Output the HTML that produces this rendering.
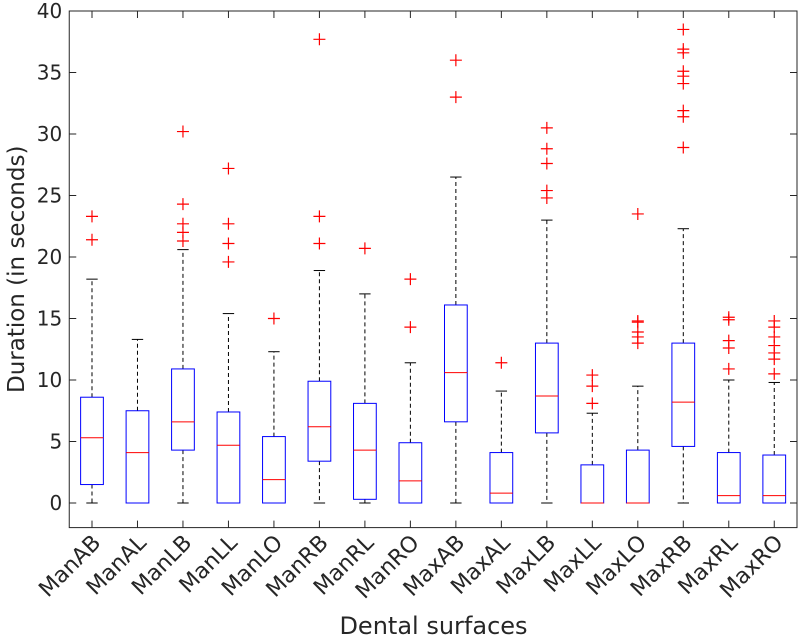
<!DOCTYPE html>
<html><head><meta charset="utf-8"><style>
body{margin:0;background:#fff;width:800px;height:637px;overflow:hidden}
svg{display:block;font-family:"DejaVu Sans","Liberation Sans",sans-serif}
</style></head><body>
<svg id="chart" width="800" height="637" viewBox="0 0 800 637"></svg>
<script>
const categories=["ManAB","ManAL","ManLB","ManLL","ManLO","ManRB","ManRL","ManRO","MaxAB","MaxAL","MaxLB","MaxLL","MaxLO","MaxRB","MaxRL","MaxRO"];
const q1s=[1.5,0,4.3,0,0,3.4,0.3,0,6.6,0,5.7,0,0,4.6,0,0];
const medians=[5.3,4.1,6.6,4.7,1.9,6.2,4.3,1.8,10.6,0.8,8.7,0,0,8.2,0.6,0.6];
const q3s=[8.6,7.5,10.9,7.4,5.4,9.9,8.1,4.9,16.1,4.1,13.0,3.1,4.3,13.0,4.1,3.9];
const whiskLo=[0,0,0,0,0,0,0,0,0,0,0,0,0,0,0,0];
const whiskHi=[18.2,13.3,20.6,15.4,12.3,18.9,17.0,11.4,26.5,9.1,23.0,7.3,9.5,22.3,10.0,9.8];
const outliers=[[21.4,23.3],[],[21.3,22.0,22.7,24.3,30.2],[19.6,21.1,22.7,27.2],[15.0],[21.1,23.3,37.7],[20.7],[14.3,18.2],[33.0,36.0],[11.4],[24.8,25.4,27.6,28.8,30.5],[8.1,9.5,10.4],[13.0,13.5,13.9,14.7,14.8,23.5],[28.9,31.4,31.9,34.1,34.7,35.1,36.6,36.9,38.5],[10.9,12.6,13.2,14.9,15.1],[10.5,11.7,12.2,12.8,13.5,14.3,14.8]];
const yTicks=[0,5,10,15,20,25,30,35,40];

const NS="http://www.w3.org/2000/svg";
const svg=document.getElementById('chart');
const L=69.25,R=797,T=11,B=527.6,ymin=-2,ymax=40;
const X=i=>L+(i+0.5)*(R-L)/categories.length;
const Y=v=>B-(v-ymin)*(B-T)/(ymax-ymin);
const bw=(R-L)/categories.length*0.5;
function el(tag,attrs,parent){const e=document.createElementNS(NS,tag);for(const k in attrs)e.setAttribute(k,attrs[k]);(parent||svg).appendChild(e);return e;}

const axes=el('rect',{x:L,y:T,width:R-L,height:B-T,fill:'#fff',stroke:'#262626','stroke-width':1});



yTicks.forEach(v=>{
  const y=Y(v);
  el('line',{x1:L,y1:y,x2:L+7,y2:y,stroke:'#262626'});
  el('line',{x1:R,y1:y,x2:R-7,y2:y,stroke:'#262626'});
  const t=el('text',{x:L-7,y:y+7,'text-anchor':'end','font-size':20,fill:'#262626'});
  t.textContent=v;
  
  
});

categories.forEach((c,i)=>{
  const x=X(i);
  el('line',{x1:x,y1:B,x2:x,y2:B-7,stroke:'#262626'});
  el('line',{x1:x,y1:T,x2:x,y2:T+7,stroke:'#262626'});
  const g=el('g',{});
  
  
  el('line',{x1:x,y1:Y(q3s[i]),x2:x,y2:Y(whiskHi[i]),stroke:'#000','stroke-dasharray':'4,3'},g);
  el('line',{x1:x,y1:Y(q1s[i]),x2:x,y2:Y(whiskLo[i]),stroke:'#000','stroke-dasharray':'4,3'},g);
  el('line',{x1:x-bw/4,y1:Y(whiskHi[i]),x2:x+bw/4,y2:Y(whiskHi[i]),stroke:'#000'},g);
  el('line',{x1:x-bw/4,y1:Y(whiskLo[i]),x2:x+bw/4,y2:Y(whiskLo[i]),stroke:'#000'},g);
  el('rect',{x:x-bw/2,y:Y(q3s[i]),width:bw,height:Y(q1s[i])-Y(q3s[i]),fill:'none',stroke:'#0000ff'},g);
  el('line',{x1:x-bw/2,y1:Y(medians[i]),x2:x+bw/2,y2:Y(medians[i]),stroke:'#ff0000'},g);
  outliers[i].forEach(v=>{
    const y=Y(v);
    el('path',{d:`M${x-6},${y}H${x+6}M${x},${y-6}V${y+6}`,stroke:'#ff0000','stroke-width':1.2},g);
  });
  const t=el('text',{x:x+10,y:544,'text-anchor':'end','font-size':22,fill:'#262626',transform:`rotate(-45 ${x+10} 544)`});
  t.textContent=c;
  
  
});

const xt=el('text',{x:433.5,y:634,'text-anchor':'middle','font-size':24,fill:'#262626'});
xt.textContent='Dental surfaces';


const yt=el('text',{x:0,y:0,'text-anchor':'middle','font-size':23,fill:'#262626',transform:`translate(24 ${(T+B)/2}) rotate(-90)`});
yt.textContent='Duration (in seconds)';


</script>
</body></html>
